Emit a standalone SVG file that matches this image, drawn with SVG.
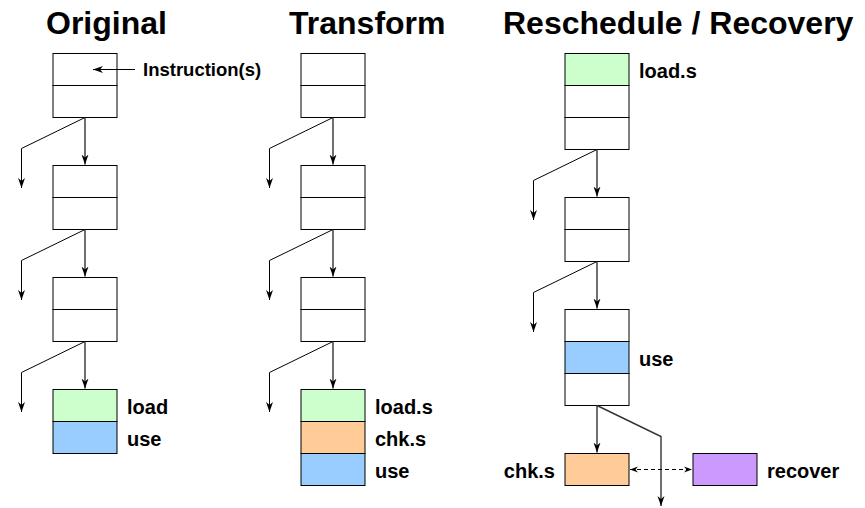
<svg xmlns="http://www.w3.org/2000/svg" width="865" height="508" viewBox="0 0 865 508">
  <style>
    .title { font-family: "Liberation Sans", Arial, sans-serif; font-weight: bold; font-size: 32px; fill: #000; }
    .label { font-family: "Liberation Sans", Arial, sans-serif; font-weight: bold; font-size: 20px; fill: #000; }
    .note { font-family: "Liberation Sans", Arial, sans-serif; font-weight: bold; font-size: 18.5px; fill: #000; }
    .cell { stroke: #000; stroke-width: 1; }
    .blank { fill: #fff; }
    .load { fill: #ccffcc; }
    .use { fill: #99ccff; }
    .chk { fill: #ffcc99; }
    .rec { fill: #cc99ff; }
    .flow { stroke: #333; stroke-width: 1.4; fill: none; marker-end: url(#head); }
    .branch { stroke: #000; stroke-width: 1; fill: none; marker-end: url(#head); }
    .dash { stroke: #000; stroke-width: 1; fill: none; stroke-dasharray: 4 3; marker-start: url(#small); marker-end: url(#small); }
  </style>
  <defs>
    <marker id="head" markerUnits="userSpaceOnUse" markerWidth="11" markerHeight="8" refX="10" refY="4" orient="auto" viewBox="0 0 11 8">
      <path d="M0,0.5 L10,4 L0,7.5 L3,4 Z" fill="#000"/>
    </marker>
    <marker id="small" markerUnits="userSpaceOnUse" markerWidth="9" markerHeight="7" refX="8" refY="3.5" orient="auto-start-reverse" viewBox="0 0 9 7">
      <path d="M0,0.5 L8,3.5 L0,6.5 L2.5,3.5 Z" fill="#000"/>
    </marker>
  </defs>

  <rect width="865" height="508" fill="#fff"/>

  <!-- column titles -->
  <text class="title" x="46" y="34">Original</text>
  <text class="title" x="289" y="34">Transform</text>
  <text class="title" x="503" y="34">Reschedule / Recovery</text>

  <!-- ===== Original ===== -->
  <g id="orig-b1">
    <rect class="cell blank" x="53" y="53.5" width="64" height="32"/>
    <rect class="cell blank" x="53" y="85.5" width="64" height="32"/>
  </g>
  <g id="orig-b2">
    <rect class="cell blank" x="53" y="165.5" width="64" height="32"/>
    <rect class="cell blank" x="53" y="197.5" width="64" height="32"/>
  </g>
  <g id="orig-b3">
    <rect class="cell blank" x="53" y="277.5" width="64" height="32"/>
    <rect class="cell blank" x="53" y="309.5" width="64" height="32"/>
  </g>
  <g id="orig-b4">
    <rect class="cell load" x="53" y="389.5" width="64" height="32"/>
    <rect class="cell use" x="53" y="421.5" width="64" height="32"/>
    <text class="label" x="127" y="414">load</text>
    <text class="label" x="127" y="446">use</text>
  </g>
  <g id="instr-note">
    <text class="note" x="143" y="76">Instruction(s)</text>
  </g>

  <!-- ===== Transform ===== -->
  <g id="tr-b1">
    <rect class="cell blank" x="301" y="53.5" width="64" height="32"/>
    <rect class="cell blank" x="301" y="85.5" width="64" height="32"/>
  </g>
  <g id="tr-b2">
    <rect class="cell blank" x="301" y="165.5" width="64" height="32"/>
    <rect class="cell blank" x="301" y="197.5" width="64" height="32"/>
  </g>
  <g id="tr-b3">
    <rect class="cell blank" x="301" y="277.5" width="64" height="32"/>
    <rect class="cell blank" x="301" y="309.5" width="64" height="32"/>
  </g>
  <g id="tr-b4">
    <rect class="cell load" x="301" y="389.5" width="64" height="32"/>
    <rect class="cell chk" x="301" y="421.5" width="64" height="32"/>
    <rect class="cell use" x="301" y="453.5" width="64" height="32"/>
    <text class="label" x="375" y="414">load.s</text>
    <text class="label" x="375" y="446">chk.s</text>
    <text class="label" x="375" y="478">use</text>
  </g>

  <!-- ===== Reschedule / Recovery ===== -->
  <g id="rs-b1">
    <rect class="cell load" x="565" y="53.5" width="64" height="32"/>
    <rect class="cell blank" x="565" y="85.5" width="64" height="32"/>
    <rect class="cell blank" x="565" y="117.5" width="64" height="32"/>
    <text class="label" x="639" y="78">load.s</text>
  </g>
  <g id="rs-b2">
    <rect class="cell blank" x="565" y="197.5" width="64" height="32"/>
    <rect class="cell blank" x="565" y="229.5" width="64" height="32"/>
  </g>
  <g id="rs-b3">
    <rect class="cell blank" x="565" y="309.5" width="64" height="32"/>
    <rect class="cell use" x="565" y="341.5" width="64" height="32"/>
    <rect class="cell blank" x="565" y="373.5" width="64" height="32"/>
    <text class="label" x="639" y="366">use</text>
  </g>
  <g id="rs-chk">
    <rect class="cell chk" x="565" y="453.5" width="64" height="32"/>
    <text class="label" x="555" y="478" text-anchor="end">chk.s</text>
  </g>
  <g id="rs-recover">
    <rect class="cell rec" x="693" y="453.5" width="64" height="32"/>
    <text class="label" x="767" y="478">recover</text>
  </g>

  <!-- connectors -->
  <g id="connectors">
    <!-- instruction pointer -->
    <line class="branch" x1="135" y1="69.5" x2="93" y2="69.5"/>

    <!-- Original -->
    <line class="flow" x1="85" y1="117.5" x2="85" y2="164.5"/>
    <polyline class="branch" points="85,117.5 21.5,148.5 21.5,188"/>
    <line class="flow" x1="85" y1="229.5" x2="85" y2="276.5"/>
    <polyline class="branch" points="85,229.5 21.5,260.5 21.5,300"/>
    <line class="flow" x1="85" y1="341.5" x2="85" y2="388.5"/>
    <polyline class="branch" points="85,341.5 21.5,372.5 21.5,412"/>

    <!-- Transform -->
    <line class="flow" x1="333" y1="117.5" x2="333" y2="164.5"/>
    <polyline class="branch" points="333,117.5 269.5,148.5 269.5,188"/>
    <line class="flow" x1="333" y1="229.5" x2="333" y2="276.5"/>
    <polyline class="branch" points="333,229.5 269.5,260.5 269.5,300"/>
    <line class="flow" x1="333" y1="341.5" x2="333" y2="388.5"/>
    <polyline class="branch" points="333,341.5 269.5,372.5 269.5,412"/>

    <!-- Reschedule / Recovery -->
    <line class="flow" x1="597" y1="149.5" x2="597" y2="196.5"/>
    <polyline class="branch" points="597,149.5 533.5,180.5 533.5,220"/>
    <line class="flow" x1="597" y1="261.5" x2="597" y2="308.5"/>
    <polyline class="branch" points="597,261.5 533.5,292.5 533.5,332"/>
    <line class="flow" x1="597" y1="405.5" x2="597" y2="452.5"/>
    <polyline class="flow" points="597,405.5 661,436.5 661,506"/>
    <line class="dash" x1="630" y1="469.5" x2="692" y2="469.5"/>
  </g>
</svg>
